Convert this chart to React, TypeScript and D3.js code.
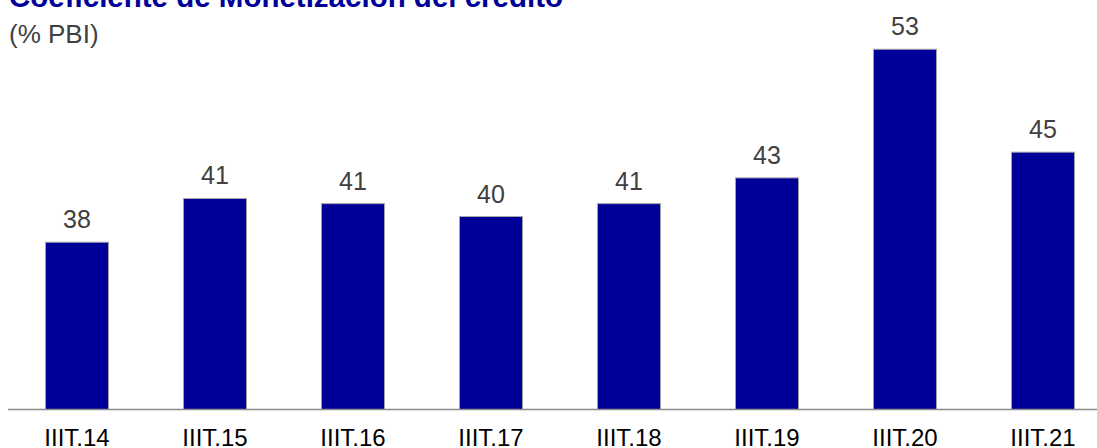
import React from "react";
import * as d3 from "d3";

const categories = ["IIIT.14", "IIIT.15", "IIIT.16", "IIIT.17", "IIIT.18", "IIIT.19", "IIIT.20", "IIIT.21"];
const values = [38.0, 41.4, 41.0, 40.0, 41.0, 43.0, 53.0, 45.0];
const title = "Coeficiente de Monetización del crédito";
const subtitle = "(% PBI)";

const W = 1097;
const H = 448;

export default function App() {
  const x = d3.scaleBand<string>().domain(categories).range([8, 1112]).paddingInner(0.543).paddingOuter(0.2715);
  const y = d3.scaleLinear().domain([25, 55]).range([409.5, 23.5]);
  const font = "Arial, 'Liberation Sans', Helvetica, sans-serif";
  return (
    <svg width={W} height={H} style={{ position: "absolute", left: 0, top: 0 }} fontFamily={font}>
      <rect x={0} y={0} width={W} height={H} fill="#ffffff" />
      <text x={9} y={7} fontSize={29.5} fontWeight="bold" fill="#000099">{title}</text>
      <text x={9} y={43} fontSize={26} fill="#404040">{subtitle}</text>
      {categories.map((c, i) => (
        <g key={c}>
          <rect
            x={x(c)!}
            y={y(values[i])}
            width={x.bandwidth()}
            height={y(25) - y(values[i])}
            fill="#000099"
            stroke="#a6a6a6"
            strokeWidth={1}
          />
          <text
            x={x(c)! + x.bandwidth() / 2}
            y={y(values[i]) - 14}
            textAnchor="middle"
            fontSize={25}
            fill="#404040"
          >
            {d3.format(".0f")(values[i])}
          </text>
          <text x={x(c)! + x.bandwidth() / 2} y={446} textAnchor="middle" fontSize={24} fill="#000000">
            {c}
          </text>
        </g>
      ))}
      <line x1={8} x2={W} y1={409.5} y2={409.5} stroke="#8c8c8c" strokeWidth={1.5} />
    </svg>
  );
}
